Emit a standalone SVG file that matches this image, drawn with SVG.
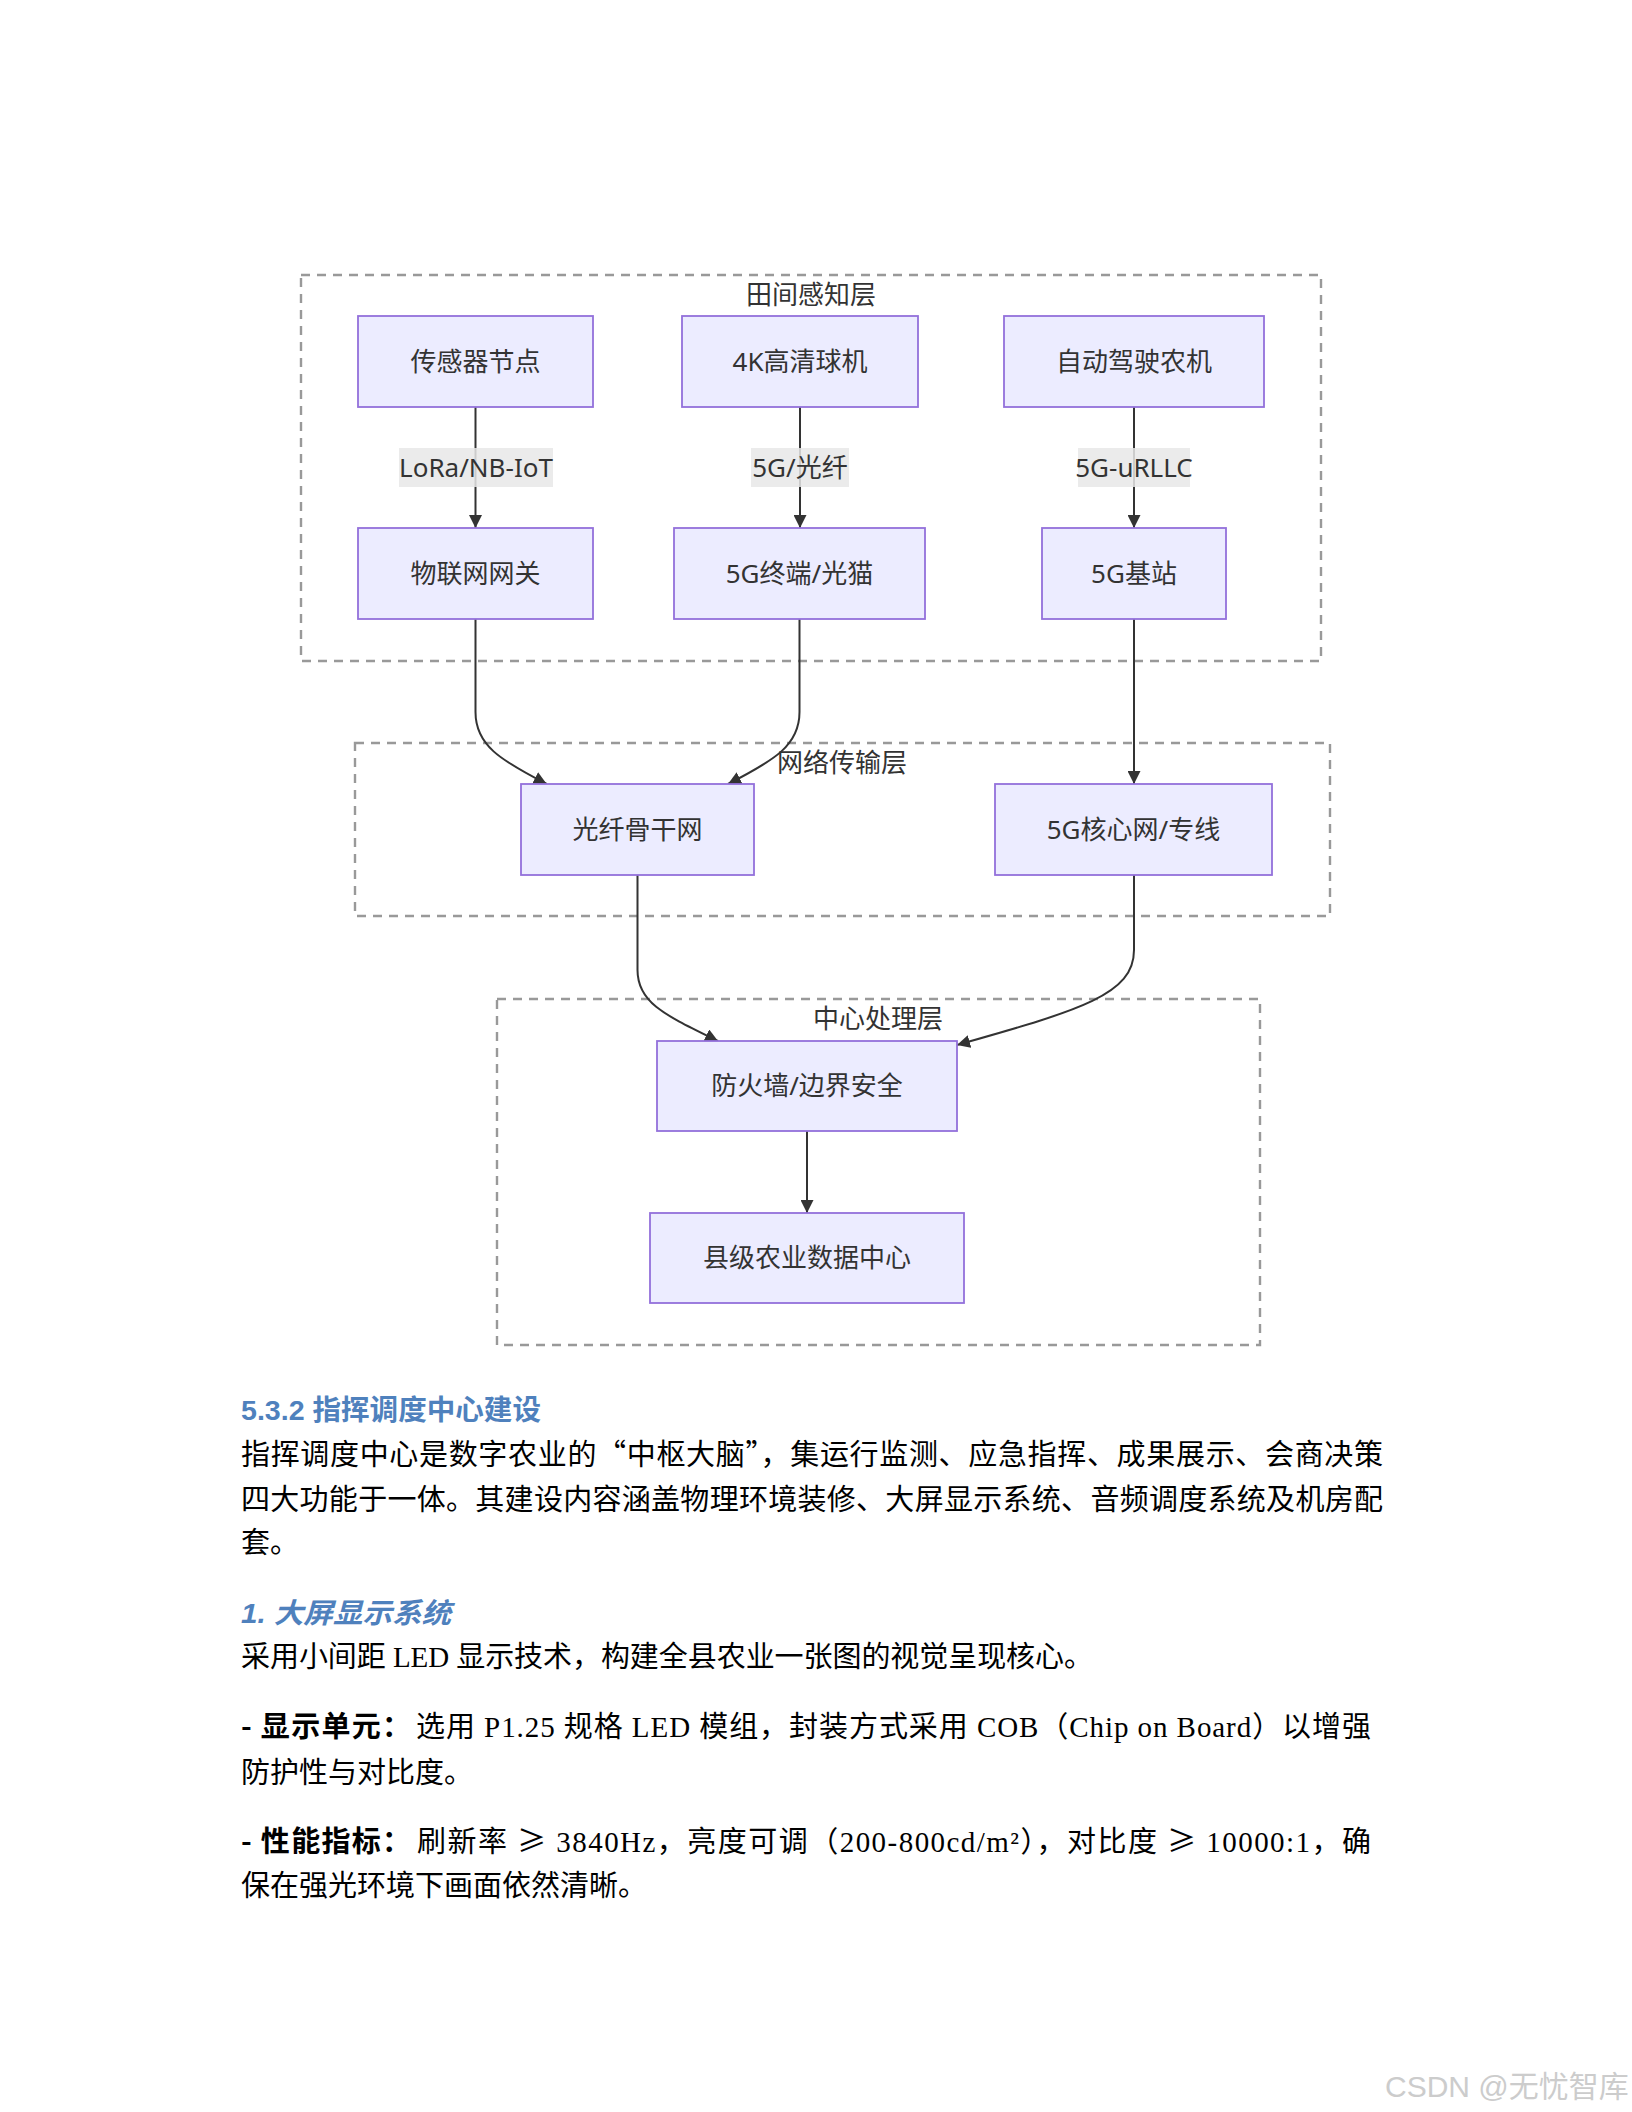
<svg xmlns="http://www.w3.org/2000/svg" width="1632" height="2112" viewBox="0 0 1632 2112">
<style>
.cluster{fill:#ffffff;stroke:#999999;stroke-width:2.4;stroke-dasharray:9 7}
.clabel{font-family:"Noto Sans","Noto Sans CJK SC",sans-serif;font-size:26px;fill:#333333;text-anchor:middle}
.node rect{fill:#ECECFF;stroke:#9370DB;stroke-width:1.8}
.node text{font-family:"Noto Sans","Noto Sans CJK SC",sans-serif;font-size:26px;fill:#333333;text-anchor:middle}
.edge{fill:none;stroke:#333333;stroke-width:2}
.elabel rect{fill:#e8e8e8;fill-opacity:0.85}
.elabel text{font-family:"Noto Sans","Noto Sans CJK SC",sans-serif;font-size:26px;fill:#333333;text-anchor:middle}
.h{font-family:"Liberation Sans","Noto Sans CJK SC",sans-serif;font-size:28px;font-weight:bold;fill:#4F81BD}
.b{font-family:"Noto Sans CJK SC",sans-serif;font-size:29px;fill:#000000}
.m{font-family:"Liberation Serif","Noto Sans CJK SC",serif;font-size:29px;fill:#000000}
.bb{font-family:"Noto Sans CJK SC",sans-serif;font-size:29px;font-weight:bold;fill:#000000}
.cj{font-family:"Noto Sans CJK SC",sans-serif}
.wm{font-family:"Liberation Sans","Noto Sans CJK SC",sans-serif;font-size:30px;fill:#cccccc}
</style>
<defs>
<marker id="arr" viewBox="0 0 10 10" refX="10" refY="5" markerUnits="userSpaceOnUse" markerWidth="13" markerHeight="13" orient="auto">
<path d="M0,0 L10,5 L0,10 z" fill="#333333"/>
</marker>
</defs>
<rect width="1632" height="2112" fill="#ffffff"/>

<g id="clusters">
<g id="cluster-field">
<rect class="cluster" x="301" y="275" width="1020" height="386"/>
<text class="clabel" x="811" y="304">田间感知层</text>
</g>
<g id="cluster-network">
<rect class="cluster" x="355" y="743" width="975" height="173"/>
<text class="clabel" x="842" y="772">网络传输层</text>
</g>
<g id="cluster-center">
<rect class="cluster" x="497" y="999" width="763" height="346"/>
<text class="clabel" x="878" y="1028">中心处理层</text>
</g>
</g>

<g id="connectors">
<path class="edge" d="M475.5,407 L475.5,528" marker-end="url(#arr)"/>
<path class="edge" d="M800,407 L800,528" marker-end="url(#arr)"/>
<path class="edge" d="M1134,407 L1134,528" marker-end="url(#arr)"/>
<path class="edge" d="M475.5,619 L475.5,712 C475.5,745 500,760 546.7,784" marker-end="url(#arr)"/>
<path class="edge" d="M799.5,619 L799.5,712 C799.5,745 775,760 728,784" marker-end="url(#arr)"/>
<path class="edge" d="M1134,619 L1134,784" marker-end="url(#arr)"/>
<path class="edge" d="M637.5,875 L637.5,970 C637.5,1003 665,1015 718,1041" marker-end="url(#arr)"/>
<path class="edge" d="M1134,875 L1134,950 C1134,995 1080,1010 957,1045" marker-end="url(#arr)"/>
<path class="edge" d="M807,1131 L807,1213" marker-end="url(#arr)"/>
<g class="elabel">
<rect x="399" y="448" width="154" height="39"/>
<text x="476" y="477">LoRa/NB-IoT</text>
</g>
<g class="elabel">
<rect x="751" y="448" width="98" height="39"/>
<text x="800" y="477">5G/光纤</text>
</g>
<g class="elabel">
<rect x="1078" y="448" width="112" height="39"/>
<text x="1134" y="477">5G-uRLLC</text>
</g>
</g>

<g id="node-sensor" class="node"><rect x="358" y="316" width="235" height="91"/><text x="475.5" y="371">传感器节点</text></g>
<g id="node-camera" class="node"><rect x="682" y="316" width="236" height="91"/><text x="800" y="371">4K高清球机</text></g>
<g id="node-tractor" class="node"><rect x="1004" y="316" width="260" height="91"/><text x="1134" y="371">自动驾驶农机</text></g>
<g id="node-gateway" class="node"><rect x="358" y="528" width="235" height="91"/><text x="475.5" y="583">物联网网关</text></g>
<g id="node-terminal" class="node"><rect x="674" y="528" width="251" height="91"/><text x="799.5" y="583">5G终端/光猫</text></g>
<g id="node-bs" class="node"><rect x="1042" y="528" width="184" height="91"/><text x="1134" y="583">5G基站</text></g>
<g id="node-fiber" class="node"><rect x="521" y="784" width="233" height="91"/><text x="637.5" y="839">光纤骨干网</text></g>
<g id="node-core" class="node"><rect x="995" y="784" width="277" height="91"/><text x="1133.5" y="839">5G核心网/专线</text></g>
<g id="node-firewall" class="node"><rect x="657" y="1041" width="300" height="90"/><text x="807" y="1095">防火墙/边界安全</text></g>
<g id="node-dc" class="node"><rect x="650" y="1213" width="314" height="90"/><text x="807" y="1267">县级农业数据中心</text></g>

<g id="body-text">
<text class="h" x="241" y="1420" textLength="300" lengthAdjust="spacingAndGlyphs">5.3.2 指挥调度中心建设</text>
<text class="b" x="241" y="1465" textLength="1142" lengthAdjust="spacing">指挥调度中心是数字农业的“中枢大脑”，集运行监测、应急指挥、成果展示、会商决策</text>
<text class="b" x="241" y="1510" textLength="1142" lengthAdjust="spacing">四大功能于一体。其建设内容涵盖物理环境装修、大屏显示系统、音频调度系统及机房配</text>
<text class="b" x="241" y="1553">套。</text>
<text class="h" x="241" y="1623" font-style="italic" textLength="210" lengthAdjust="spacingAndGlyphs">1. 大屏显示系统</text>
<text class="m" x="241" y="1667" textLength="852" lengthAdjust="spacing">采用小间距 LED 显示技术，构建全县农业一张图的视觉呈现核心。</text>
<text class="bb" x="241" y="1737" textLength="170" lengthAdjust="spacing">- 显示单元：</text>
<text class="m" x="416" y="1737" textLength="955" lengthAdjust="spacing">选用 P1.25 规格 LED 模组，封装方式采用 COB（Chip on Board）以增强</text>
<text class="b" x="241" y="1783">防护性与对比度。</text>
<text class="bb" x="241" y="1852" textLength="170" lengthAdjust="spacing">- 性能指标：</text>
<text class="m" x="417" y="1852" textLength="954" lengthAdjust="spacing">刷新率 <tspan class="cj">≥</tspan> 3840Hz，亮度可调（200-800cd/m²），对比度 <tspan class="cj">≥</tspan> 10000:1，确</text>
<text class="b" x="241" y="1896">保在强光环境下画面依然清晰。</text>
</g>

<text class="wm" x="1385" y="2097">CSDN @无忧智库</text>
</svg>
